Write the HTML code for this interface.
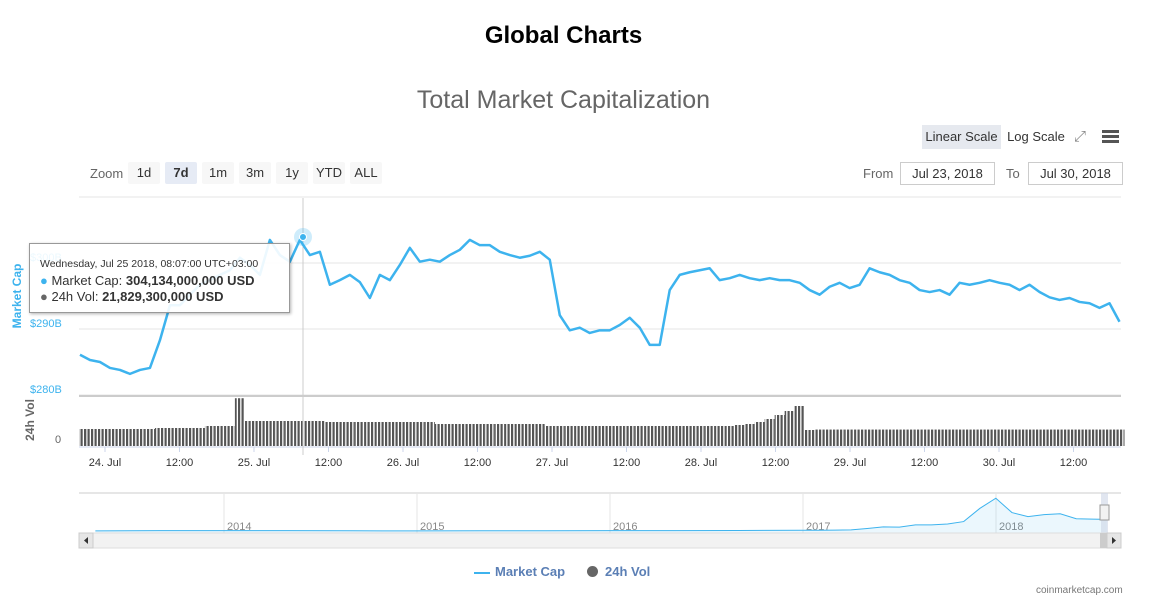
<!DOCTYPE html>
<html><head><meta charset="utf-8"><style>
body{margin:0;width:1160px;height:608px;background:#fff;font-family:"Liberation Sans","DejaVu Sans",sans-serif;overflow:hidden;position:relative}
.abs{position:absolute}
.btn{position:absolute;top:162px;height:22px;line-height:22px;font-size:13px;color:#333;background:#f7f7f7;text-align:center;border-radius:2px}
</style></head><body>
<div class="abs" style="left:0;width:1127px;top:22px;text-align:center;font-size:24px;font-weight:bold;color:#000">Global Charts</div>
<div class="abs" style="left:0;width:1127px;top:86px;text-align:center;font-size:25px;color:#666">Total Market Capitalization</div>
<div class="abs" style="left:922px;top:125px;width:79px;height:24px;line-height:24px;background:#e6e9ef;font-size:13px;text-align:center;color:#333">Linear Scale</div>
<div class="abs" style="left:1005px;top:125px;width:62px;height:24px;line-height:24px;font-size:13px;text-align:center;color:#333">Log Scale</div>
<div class="abs" style="left:1074px;top:128px;font-size:15px;color:#888">⤢</div>
<div class="abs" style="left:1102px;top:130px;width:17px;height:13px;background:linear-gradient(#555 0 3px,transparent 3px 5px,#555 5px 8px,transparent 8px 10px,#555 10px 13px)"></div>
<div class="abs" style="left:90px;top:166px;font-size:13px;color:#666">Zoom</div>
<div class="btn" style="left:128px;width:32px">1d</div>
<div class="btn" style="left:165px;width:32px;background:#e6ebf5;font-weight:bold">7d</div>
<div class="btn" style="left:202px;width:32px">1m</div>
<div class="btn" style="left:239px;width:32px">3m</div>
<div class="btn" style="left:276px;width:32px">1y</div>
<div class="btn" style="left:313px;width:32px">YTD</div>
<div class="btn" style="left:350px;width:32px">ALL</div>
<div class="abs" style="left:863px;top:166px;font-size:13px;color:#666">From</div>
<div class="abs" style="left:900px;top:162px;width:93px;height:21px;line-height:21px;border:1px solid #ccc;font-size:13px;color:#333;text-align:center">Jul 23, 2018</div>
<div class="abs" style="left:1006px;top:166px;font-size:13px;color:#666">To</div>
<div class="abs" style="left:1028px;top:162px;width:93px;height:21px;line-height:21px;border:1px solid #ccc;font-size:13px;color:#333;text-align:center">Jul 30, 2018</div>

<svg class="abs" style="left:0;top:0" width="1160" height="608" id="chart">
<defs><pattern id="stripes" width="3.5" height="10" patternUnits="userSpaceOnUse"><rect width="2.2" height="10" fill="#555"/></pattern></defs>
<g id="grid"></g><g id="vol"></g><g id="line"></g><g id="nav"></g>
</svg>

<div class="abs" style="left:29px;top:243px;width:259px;height:68px;background:rgba(255,255,255,.9);border:1px solid #999;box-shadow:1px 1px 3px rgba(0,0,0,.3);font-size:12px;color:#333">
<div style="position:absolute;left:10px;top:14px;font-size:10.5px">Wednesday, Jul 25 2018, 08:07:00 UTC+03:00</div>
<div style="position:absolute;left:10px;top:29px;font-size:13px"><span style="color:#3db3ee">●</span> Market Cap: <b>304,134,000,000 USD</b></div>
<div style="position:absolute;left:10px;top:45px;font-size:13px"><span style="color:#666">●</span> 24h Vol: <b>21,829,300,000 USD</b></div>
</div>
<div class="abs" style="left:474px;top:564px;font-size:13px;font-weight:bold;color:#5b7fb5"><span style="display:inline-block;width:16px;height:2px;background:#3db3ee;vertical-align:middle;margin-right:5px"></span>Market Cap</div>
<div class="abs" style="left:587px;top:564px;font-size:13px;font-weight:bold;color:#5b7fb5"><span style="display:inline-block;width:11px;height:11px;border-radius:50%;background:#666;vertical-align:-1px;margin-right:7px"></span>24h Vol</div>
<div class="abs" style="left:1036px;top:585px;font-size:10px;color:#777">coinmarketcap.com</div>

<script>
const startHour=-4.03, stepHour=1.61; // hours relative to Jul 24 00:00
const capValues=[286.1,285.3,285.0,284.1,283.8,283.2,283.8,284.1,288.3,293.6,293.6,295.2,296.7,297.4,298.2,298.9,300.8,299.7,298.2,303.5,301.2,300.2,303.5,301.2,301.7,296.7,297.4,298.2,297.1,294.7,298.2,297.4,299.7,302.3,300.2,300.5,300.2,301.2,302.0,303.5,302.7,302.7,301.7,301.2,300.8,301.1,301.7,300.5,292.1,289.8,290.2,289.4,289.8,289.8,290.6,291.7,290.2,287.6,287.6,295.9,298.2,298.6,298.9,299.2,297.4,297.7,298.2,297.7,297.4,297.7,297.4,297.4,297.0,295.9,295.2,296.4,297.0,296.2,296.7,299.2,298.6,298.2,297.4,297.0,295.9,295.6,295.9,295.2,297.0,296.7,297.0,297.4,297.0,296.7,295.9,296.7,295.6,294.8,294.4,294.7,294.1,293.9,293.2,293.9,291.1];
const volValues=[15.3,15.3,15.3,15.3,15.3,15.3,15.3,15.3,16.2,16.2,16.2,16.2,16.2,18,18,18,43,22.5,22.5,22.5,22.5,22.5,22.5,22.5,22.5,21.6,21.6,21.6,21.6,21.6,21.6,21.6,21.6,21.6,21.6,21.6,19.8,19.8,19.8,19.8,19.8,19.8,19.8,19.8,19.8,19.8,19.8,18,18,18,18,18,18,18,18,18,18,18,18,18,18,18,18,18,18,18,18.9,19.8,21.6,24.3,27.9,31.5,36,14.4,14.8,14.8,14.8,14.8,14.8,14.8,14.8,14.8,14.8,14.8,14.8,14.8,14.8,14.8,14.8,14.8,14.8,14.8,14.8,14.8,14.8,14.8,14.8,14.8,14.8,14.8,14.8,14.8,14.8,14.8,14.8];
const capTicks=[280,290,300,310];
const capTickLabels=["$280B","$290B","$300B",""];
const dayLabels=["24. Jul","12:00","25. Jul","12:00","26. Jul","12:00","27. Jul","12:00","28. Jul","12:00","29. Jul","12:00","30. Jul","12:00"];
// months since Jan 2014
const navMonths=[-8,-4,0,4,8,12,16,20,24,28,32,36,37,38,39,40,41,42,43,44,45,46,47,48,49,50,51,52,53,54,54.9];
const navValues=[2,10,10,8,5,4,5,6,8,10,12,17,18,22,28,60,100,95,150,150,170,230,550,800,450,350,400,420,300,290,285];
const navYears=["2014","2015","2016","2017","2018"];

const NS="http://www.w3.org/2000/svg";
function el(t,a,p){const e=document.createElementNS(NS,t);for(const k in a)e.setAttribute(k,a[k]);(p||document.getElementById('chart')).appendChild(e);return e;}
const xOf=h=>105+h*149/24;
const yCap=v=>395-(v-280)*6.6;
const yVol=v=>446-v/0.9;
const grid=document.getElementById('grid');
capTicks.forEach((t,i)=>{const g=el('line',{x1:79,x2:1121,y1:yCap(t),y2:yCap(t),stroke:'#e6e6e6'},grid);
 if(capTickLabels[i]){const tx=el('text',{x:30,y:yCap(t)-2,'font-size':11,fill:'#3db3ee','font-family':'Liberation Sans'},grid);tx.textContent=capTickLabels[i];}});
el('line',{x1:79,x2:1121,y1:396,y2:396,stroke:'#ccc','stroke-width':2},grid);
const yt=el('text',{x:0,y:0,transform:'translate(21,296) rotate(-90)','text-anchor':'middle','font-size':12,'font-weight':'bold',fill:'#3db3ee'},grid);yt.textContent='Market Cap';

const vt=el('text',{x:0,y:0,transform:'translate(34,420) rotate(-90)','text-anchor':'middle','font-size':12,'font-weight':'bold',fill:'#666'},grid);vt.textContent='24h Vol';

const v0=el('text',{x:55,y:443,'font-size':11,fill:'#666'},grid);v0.textContent='0';

el('line',{x1:79,x2:1121,y1:447,y2:447,stroke:'#ccd6eb'},grid);
dayLabels.forEach((d,i)=>{const x=xOf(i*12);el('line',{x1:x,x2:x,y1:447,y2:452,stroke:'#ccd6eb'},grid);
 const t=el('text',{x:x,y:466,'text-anchor':'middle','font-size':11,fill:'#333'},grid);t.textContent=d;});
const vg=document.getElementById('vol');
volValues.forEach((v,i)=>{const x=xOf(startHour+i*stepHour)-5;const r=el('rect',{x:Math.max(79,x),y:yVol(v),width:10,height:446-yVol(v),fill:'url(#stripes)'},vg);
 });
const lg=document.getElementById('line');
el('line',{x1:303,x2:303,y1:198,y2:455,stroke:'#ccc'},lg);
const pts=capValues.map((v,i)=>[Math.max(79,Math.min(1121,xOf(startHour+i*stepHour))),yCap(v)]);
const pl=el('polyline',{points:pts.map(p=>p.join(',')).join(' '),fill:'none',stroke:'#3db3ee','stroke-width':2.5,'stroke-linejoin':'round'},lg);

el('circle',{cx:303,cy:237,r:9,fill:'#3db3ee','fill-opacity':0.25},lg);
const hp=el('circle',{cx:303,cy:237,r:3.5,fill:'#3db3ee',stroke:'#fff'},lg);
const ng=document.getElementById('nav');
el('line',{x1:79,x2:1121,y1:493,y2:493,stroke:'#ccc'},ng);
navYears.forEach((y,i)=>{const x=224+i*193;el('line',{x1:x,x2:x,y1:493,y2:533,stroke:'#e6e6e6'},ng);const t=el('text',{x:x+3,y:530,'font-size':11,fill:'#888'},ng);t.textContent=y;
 });
const nx=m=>224+m*16.08, ny=v=>531-v*0.041;
const npts=navMonths.map((m,i)=>nx(m)+','+ny(navValues[i]));
el('polygon',{points:npts.join(' ')+' '+nx(navMonths[navMonths.length-1])+',533 '+nx(navMonths[0])+',533',fill:'#3db3ee','fill-opacity':0.1},ng);
const nl=el('polyline',{points:npts.join(' '),fill:'none',stroke:'#3db3ee','stroke-width':1},ng);

el('rect',{x:1101,y:493,width:7,height:40,fill:'#cdd6e6','fill-opacity':.6},ng);
const hd=el('rect',{x:1100,y:505,width:9,height:15,fill:'#f2f2f2',stroke:'#999'},ng);
const sb=el('rect',{x:79,y:533,width:1042,height:15,fill:'#f2f2f2',stroke:'#ddd'},ng);
el('rect',{x:79,y:533,width:14,height:15,fill:'#e6e6e6',stroke:'#ccc'},ng);
el('rect',{x:1107,y:533,width:14,height:15,fill:'#e6e6e6',stroke:'#ccc'},ng);
el('rect',{x:1100,y:533,width:7,height:15,fill:'#ccc'},ng);
el('path',{d:'M88,537 l-4,3.5 l4,3.5z',fill:'#333'},ng);
el('path',{d:'M1112,537 l4,3.5 l-4,3.5z',fill:'#333'},ng);
</script>
</body></html>
